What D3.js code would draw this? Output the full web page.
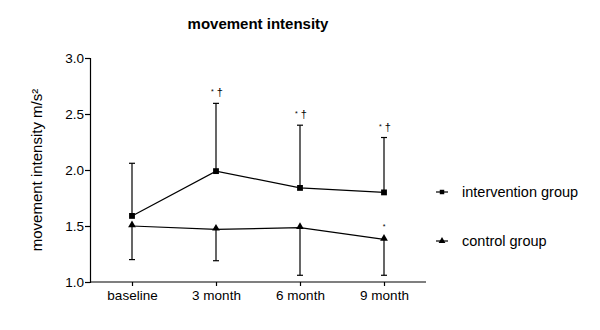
<!DOCTYPE html>
<html>
<head>
<meta charset="utf-8">
<script src="https://cdn.jsdelivr.net/npm/d3@7"></script>
<style>
body{margin:0;background:#fff;}
text{font-family:"Liberation Sans",Arial,sans-serif;fill:#000;}
</style>
</head>
<body>
<div id="chart"></div>
<script>
// data
var months=["baseline","3 month","6 month","9 month"];
var intervention=[1.59,1.99,1.84,1.80];
var interventionUp=[2.06,2.595,2.40,2.29];
var control=[1.50,1.47,1.485,1.38];
var controlDown=[1.20,1.19,1.06,1.06];
var intMarks=[false,true,true,true];
var ctlMarks=[false,false,false,true];
var yTicks=[1.0,1.5,2.0,2.5,3.0];

var width=600,height=330;
var svg=d3.select("#chart").append("svg")
    .attr("width",width).attr("height",height);

var x=d3.scalePoint().domain(months).range([90,426]).padding(0.5);
var y=d3.scaleLinear().domain([1,3]).range([282,58]);

// axes
var yAxis=svg.append("g").attr("transform","translate(90,0)")
  .call(d3.axisLeft(y).tickValues(yTicks).tickFormat(d3.format(".1f")).tickSizeOuter(0).tickSize(5));
yAxis.selectAll("text").style("font-size","13.5px").attr("x",-6);
var xAxis=svg.append("g").attr("transform","translate(0,282)")
  .call(d3.axisBottom(x).tickSizeOuter(0).tickSize(4));
xAxis.selectAll("text").style("font-size","13.5px").attr("y",8);
svg.selectAll(".domain,.tick line").attr("stroke","#000").attr("stroke-width",1.2);
xAxis.select(".domain").attr("d","M90,0H426");
svg.selectAll(".tick text").attr("font-family",null)
  .style("font-family","'Liberation Sans',Arial,sans-serif");

// error bars
function errBars(vals,ends){
  var g=svg.append("g");
  g.selectAll("line.v").data(months).enter().append("line")
    .attr("x1",function(d){return x(d);}).attr("x2",function(d){return x(d);})
    .attr("y1",function(d,i){return y(vals[i]);})
    .attr("y2",function(d,i){return y(ends[i]);})
    .attr("stroke","#000").attr("stroke-width",1.2);
  g.selectAll("line.c").data(months).enter().append("line")
    .attr("x1",function(d){return x(d)-3;}).attr("x2",function(d){return x(d)+3;})
    .attr("y1",function(d,i){return y(ends[i]);})
    .attr("y2",function(d,i){return y(ends[i]);})
    .attr("stroke","#000").attr("stroke-width",1.2);
}
errBars(intervention,interventionUp);
errBars(control,controlDown);

var line=d3.line().x(function(d,i){return x(months[i]);}).y(function(d){return y(d);});
svg.append("path").datum(intervention).attr("d",line)
  .attr("fill","none").attr("stroke","#000").attr("stroke-width",1.2);
svg.append("path").datum(control).attr("d",line)
  .attr("fill","none").attr("stroke","#000").attr("stroke-width",1.2);

var sq=d3.symbol().type(d3.symbolSquare).size(34);
var tri=d3.symbol().type(d3.symbolTriangle).size(26);
svg.selectAll("path.sq").data(intervention).enter().append("path")
  .attr("d",sq).attr("fill","#000")
  .attr("transform",function(d,i){return "translate("+x(months[i])+","+y(d)+")";});
svg.selectAll("path.tri").data(control).enter().append("path")
  .attr("d",tri).attr("fill","#000")
  .attr("transform",function(d,i){return "translate("+x(months[i])+","+(y(d)-1)+")";});

// significance marks: small raised asterisk, dagger
months.forEach(function(m,i){
  if(intMarks[i]){
    var t=svg.append("text").attr("x",x(m)-5).attr("y",y(interventionUp[i])-7);
    t.append("tspan").style("font-size","7px").attr("dy",-2).text("*");
    t.append("tspan").style("font-size","11px").attr("dx",3).attr("dy",2).text("†");
  }
  if(ctlMarks[i]){
    svg.append("text").attr("x",x(m)).attr("y",y(control[i])-10)
      .attr("text-anchor","middle").style("font-size","7px").text("*");
  }
});

// title and y label
svg.append("text").attr("x",258).attr("y",29).attr("text-anchor","middle")
  .style("font-size","15px").style("font-weight","bold").text("movement intensity");
svg.append("text").attr("transform","translate(42,170) rotate(-90)")
  .attr("text-anchor","middle").style("font-size","15px").text("movement intensity m/s²");

// legend
var legend=[{name:"intervention group",sym:sq,y:192},{name:"control group",sym:tri,y:241}];
var lg=svg.selectAll("g.lg").data(legend).enter().append("g")
  .attr("transform",function(d){return "translate(436,"+d.y+")";});
lg.append("line").attr("x1",0).attr("x2",12).attr("y1",0).attr("y2",0)
  .attr("stroke","#000").attr("stroke-width",1.2);
lg.append("path").attr("d",function(d){return d.sym.size(20)();}).attr("transform","translate(6,0)").attr("fill","#000");
lg.append("text").attr("x",26).attr("y",5).style("font-size","14.5px").text(function(d){return d.name;});
</script>
</body>
</html>
